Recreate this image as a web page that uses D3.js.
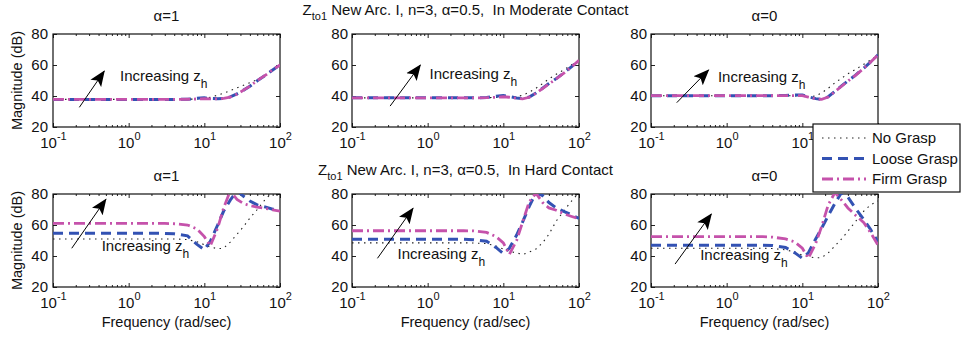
<!DOCTYPE html>
<html><head><meta charset="utf-8">
<script src="https://cdn.jsdelivr.net/npm/d3@7"></script>
<style>
body{margin:0;background:#fff}
svg{display:block}
text{font-family:"Liberation Sans",Arial,Helvetica,sans-serif;fill:#111;white-space:pre}
</style>
</head><body><svg id="c" width="961" height="337"></svg>
<script>
// ---- data ----
const freq = [0.1, 0.3, 1, 3, 4, 6, 8, 10, 12, 15, 18, 22, 27, 33, 40, 50, 65, 80, 100];
const xTicks = [0.1, 1, 10, 100];
const xTickExp = ["-1", "0", "1", "2"];
const yTicks = [20, 40, 60, 80];
const seriesNames = ["No Grasp", "Loose Grasp", "Firm Grasp"];
const rowContacts = ["In Moderate Contact", "In Hard Contact"];
const colTitles = ["\u03b1=1", "", "\u03b1=0"];

// Moderate contact
const modA1None  = [37.8,37.8,37.8,37.8,37.8,37.9,38.1,38.5,39.2,40.5,41.8,43.5,45.3,47,48.6,50.5,53.8,57,60];
const modA1Loose = [37.8,37.8,37.8,37.8,37.8,37.9,38.5,38.8,38.4,38.2,38.5,39.4,41.3,43.8,46.3,49.8,53.5,56.8,60];
const modA1Firm  = [37.8,37.8,37.8,37.8,37.8,37.9,38.1,38.3,38.2,38.1,38.4,39.2,41.2,43.8,46.4,49.9,53.6,56.9,60];
const modA05None  = [38.8,38.8,38.8,38.8,38.8,38.9,39.1,39.3,39.3,39.6,40.5,42.5,45,48,51,54,57.3,60.2,63];
const modA05Loose = [38.8,38.8,38.8,38.8,38.8,39,39.8,40.3,39.6,38.7,38.3,39.3,42,45,48,51.2,55.4,59,63];
const modA05Firm  = [38.8,38.8,38.8,38.8,38.8,38.9,39.2,39.5,39.2,38.5,38.2,39.2,41.8,44.8,47.8,51,55.2,58.9,63];
const modA0None  = [40.2,40.2,40.2,40.2,40.2,40.2,40.1,39.9,39.6,40,42,45,48.5,51.5,54.3,57,60.5,63.3,66.5];
const modA0Loose = [40.2,40.2,40.2,40.2,40.2,40.3,40.6,40.6,39.5,38.3,37.8,39.5,43,46.5,49.8,53.3,58,62,66.5];
const modA0Firm  = [40.2,40.2,40.2,40.2,40.2,40.2,40.3,40.2,39.3,38.2,37.8,39.3,42.8,46.3,49.6,53.2,57.9,61.9,66.5];
// Hard contact
const hardA1None  = [51,51,51,51,51,50.6,49.2,47.3,45.8,44.7,45,49,54,59,64.5,70,77,81,84];
const hardA1Loose = [54.6,54.6,54.6,54.6,54.3,53,47.5,44,49.5,60,69,76,82,78.5,75.5,73,71.5,70.2,69.5];
const hardA1Firm  = [61,61,61,61,60.8,60,57.5,52.5,46.5,58,71,82,76.5,73.8,72.5,71.5,70.6,69.8,69];
const hardA05None  = [48.5,48.5,48.5,48.5,48.4,48,46.5,44.5,43,42,41,42.5,44.5,48.5,54,62.5,70,75.5,81];
const hardA05Loose = [50.8,50.8,50.8,50.8,50.5,49.5,45.5,41.5,45,53.5,62,72,81,79,74.5,71,68.5,66.5,64.3];
const hardA05Firm  = [56.3,56.3,56.3,56.3,56.2,55.2,52.5,48.5,41,50,62,75,80.5,74.5,71,69.5,67,65.5,64];
const hardA0None  = [45,45,45,45,44.8,44,42.5,40.5,39.5,38.8,39,42,46.5,51,56,62,69,73,75.5];
const hardA0Loose = [47,47,47,47,46.8,45.5,42,38.5,42,51,58,66,74,81,78,71,63.5,57,49];
const hardA0Firm  = [52.5,52.5,52.5,52.5,52.2,51,49,45,38.5,48,59,73,81,76,71,66.5,61.5,55,47];

// annotation anchors (data units: [freq, dB])
const arrowFrom = [[0.223,32.7],[0.319,33.5],[0.219,35.7],[0.177,45],[0.217,38.5],[0.208,34.8]];
const arrowTo   = [[0.476,56.1],[0.8,60],[0.577,56.8],[0.5,76.6],[0.64,70.8],[0.627,67.1]];
const labelAt   = [[0.768,49.7],[1.06,50.8],[0.767,49.2],[0.44,43.4],[0.4,38.1],[0.447,37.4]];

// ---- layout ----
const colX = [53, 352, 651], W = 227;
const rowY = [34, 194], H = 93;
const styles = [
  {stroke:"#222", width:1.1, dash:"1.5,4.5"},
  {stroke:"#3352b3", width:3, dash:"10,6"},
  {stroke:"#c552ab", width:2.8, dash:"11,4,2,4"}
];
const panelData = [
  [[modA1None,modA1Loose,modA1Firm],[modA05None,modA05Loose,modA05Firm],[modA0None,modA0Loose,modA0Firm]],
  [[hardA1None,hardA1Loose,hardA1Firm],[hardA05None,hardA05Loose,hardA05Firm],[hardA0None,hardA0Loose,hardA0Firm]]
];

const svg = d3.select("#c");
const defs = svg.append("defs");
defs.append("marker").attr("id","ah").attr("markerUnits","userSpaceOnUse")
  .attr("viewBox","0 -7 16 14").attr("markerWidth",16).attr("markerHeight",14)
  .attr("refX",15).attr("refY",0).attr("orient","auto")
  .append("path").attr("d","M0,-6.5L16,0L0,6.5L3.5,0Z").attr("fill","#000");

const minorTicks = [];
for (let e = -1; e < 2; e++) for (let m = 2; m <= 9; m++) minorTicks.push(m * Math.pow(10, e));

for (let r = 0; r < 2; r++) {
  for (let c = 0; c < 3; c++) {
    const idx = r * 3 + c;
    const x = d3.scaleLog().domain([0.1, 100]).range([colX[c], colX[c] + W]);
    const y = d3.scaleLinear().domain([20, 80]).range([rowY[r] + H, rowY[r]]);
    const g = svg.append("g");
    const cid = "clip" + idx;
    defs.append("clipPath").attr("id", cid).append("rect")
      .attr("x", colX[c]).attr("y", rowY[r]).attr("width", W).attr("height", H);

    // axes
    const bx = g.append("g").attr("transform", `translate(0,${rowY[r] + H})`)
      .call(d3.axisBottom(x).tickValues(xTicks).tickSizeInner(-4).tickSizeOuter(0).tickFormat(""));
    bx.selectAll(".tick").append("text")
      .attr("y", 21).attr("text-anchor","middle").attr("font-size", 15)
      .each(function(d, i) {
        const t = d3.select(this);
        t.append("tspan").text("10");
        t.append("tspan").attr("dy", -8).attr("font-size", 11).text(xTickExp[i]);
      });
    g.append("g").attr("transform", `translate(0,${rowY[r] + H})`)
      .call(d3.axisBottom(x).tickValues(minorTicks).tickSizeInner(-2).tickSizeOuter(0).tickFormat(""));
    g.append("g").attr("transform", `translate(0,${rowY[r]})`)
      .call(d3.axisTop(x).tickValues(xTicks).tickSizeInner(-4).tickSizeOuter(0).tickFormat(""));
    g.append("g").attr("transform", `translate(0,${rowY[r]})`)
      .call(d3.axisTop(x).tickValues(minorTicks).tickSizeInner(-2).tickSizeOuter(0).tickFormat(""));
    const ly = g.append("g").attr("transform", `translate(${colX[c]},0)`)
      .call(d3.axisLeft(y).tickValues(yTicks).tickSizeInner(-4).tickSizeOuter(0).tickPadding(c === 0 ? 5 : 4));
    ly.selectAll("text").attr("font-size", 15).attr("fill", "#111").attr("font-family", null);
    g.append("g").attr("transform", `translate(${colX[c] + W},0)`)
      .call(d3.axisRight(y).tickValues(yTicks).tickSizeInner(-4).tickSizeOuter(0).tickFormat(""));
    g.selectAll(".domain").remove();
    g.selectAll(".tick line").attr("stroke", "#222");
    g.append("rect").attr("x", colX[c]).attr("y", rowY[r]).attr("width", W).attr("height", H)
      .attr("fill", "none").attr("stroke", "#111").attr("stroke-width", 1.2);

    // lines
    const line = d3.line().x(d => x(d[0])).y(d => y(d[1]));
    const lg = g.append("g").attr("clip-path", `url(#${cid})`);
    panelData[r][c].forEach((vals, s) => {
      lg.append("path").datum(freq.map((f, i) => [f, vals[i]]))
        .attr("d", line).attr("fill", "none")
        .attr("stroke", styles[s].stroke).attr("stroke-width", styles[s].width)
        .attr("stroke-dasharray", styles[s].dash);
    });

    // annotation
    g.append("line")
      .attr("x1", x(arrowFrom[idx][0])).attr("y1", y(arrowFrom[idx][1]))
      .attr("x2", x(arrowTo[idx][0])).attr("y2", y(arrowTo[idx][1]))
      .attr("stroke", "#000").attr("stroke-width", 1).attr("marker-end", "url(#ah)");
    const lt = g.append("text").attr("x", x(labelAt[idx][0])).attr("y", y(labelAt[idx][1]))
      .attr("font-size", 15);
    lt.append("tspan").text("Increasing z");
    lt.append("tspan").attr("dy", 7).attr("font-size", 12).text("h");

    // titles
    const cx = colX[c] + W / 2;
    if (c === 1) {
      const tt = g.append("text").attr("x", cx).attr("y", rowY[r] - 19).attr("text-anchor", "middle").attr("font-size", 15);
      tt.append("tspan").text("Z");
      tt.append("tspan").attr("dy", 5).attr("font-size", 11).text("to1");
      tt.append("tspan").attr("dy", -5).text(" New Arc. I, n=3, \u03b1=0.5,  " + rowContacts[r]);
    } else {
      g.append("text").attr("x", cx).attr("y", rowY[r] - 13.5).attr("text-anchor", "middle")
        .attr("font-size", 15).text(colTitles[c]);
    }
    if (c === 0) {
      g.append("text").attr("transform", `translate(22,${rowY[r] + H / 2}) rotate(-90)`)
        .attr("text-anchor", "middle").attr("font-size", 14.5).text("Magnitude (dB)");
    }
    if (r === 1) {
      g.append("text").attr("x", cx).attr("y", rowY[r] + H + 40).attr("text-anchor", "middle")
        .attr("font-size", 14.5).text("Frequency (rad/sec)");
    }
  }
}

// legend
const leg = svg.append("g");
leg.append("rect").attr("x", 813).attr("y", 124).attr("width", 147).attr("height", 68)
  .attr("fill", "#fff").attr("stroke", "#111").attr("stroke-width", 1.2);
seriesNames.forEach((n, i) => {
  const yy = 138 + i * 20.5;
  leg.append("line").attr("x1", 822).attr("x2", 866).attr("y1", yy).attr("y2", yy)
    .attr("stroke", styles[i].stroke).attr("stroke-width", styles[i].width)
    .attr("stroke-dasharray", styles[i].dash);
  leg.append("text").attr("x", 872).attr("y", yy + 5).attr("font-size", 15).text(n);
});
</script>
</body></html>
